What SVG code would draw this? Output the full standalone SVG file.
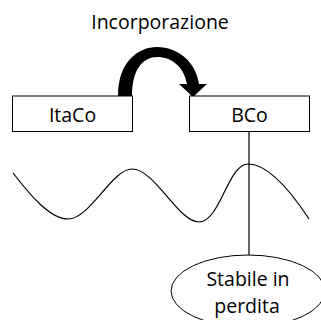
<svg xmlns="http://www.w3.org/2000/svg" width="321" height="320" viewBox="0 0 321 320">
<style>
text{font-family:"Open Sans","Liberation Sans",sans-serif;font-size:19.5px;fill:#000;text-anchor:middle}
.box{fill:#fff;stroke:#000;stroke-width:1}
.line{fill:none;stroke:#000;stroke-width:1.2}
</style>
<rect width="321" height="320" fill="#fff"/>
<g id="connectors">
<path id="arrow" d="M118,96 C118,62 138,47 157,47 C178,47 196,62 199,84 L207,84 L193,97 L179,84 L187,84 C184,67 172,57 157,57 C144,57 132,68 132,96 Z" fill="#000"/>
<line class="line" x1="249" y1="132" x2="249" y2="255"/>
</g>
<g id="label-incorporazione"><text x="160" y="29">Incorporazione</text></g>
<g id="wave"><path class="line" d="M13,173 C30,195 50,219 68,219 C90,219 112,169 132,169 C155,169 178,222 199,222 C220,222 228,164 248,164 C268,164 290,190 309,219"/></g>
<g id="itaco"><rect class="box" x="12.5" y="96" width="120" height="35.5"/><text x="72.5" y="121.5">ItaCo</text></g>
<g id="bco"><rect class="box" x="189.5" y="96" width="120" height="35.5"/><text x="249.5" y="121.5">BCo</text></g>
<g id="stabile"><ellipse class="box" cx="248" cy="291" rx="77" ry="36"/><text x="248" y="286">Stabile in</text><text x="247" y="313">perdita</text></g>
</svg>
